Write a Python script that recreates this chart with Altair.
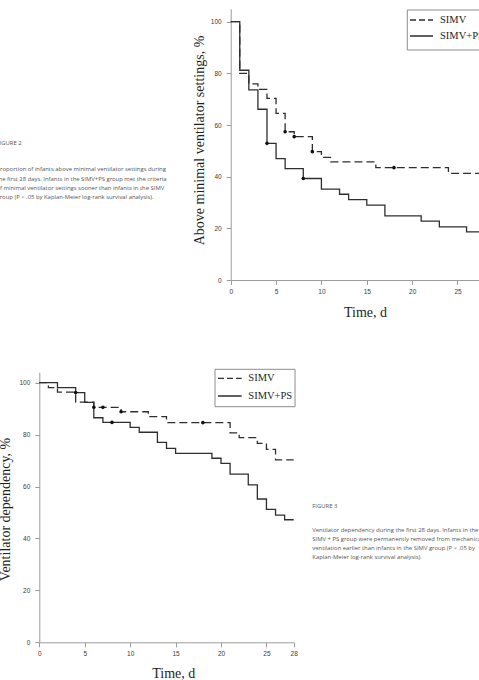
import altair as alt
import pandas as pd

# ---- Figure 2: proportion above minimal ventilator settings (%) ----
f2_simv_t = [0, 1, 2, 3, 4, 5, 6, 7, 9, 10, 11, 16, 24, 28]
f2_simv_s = [100, 80.0, 75.9, 73.8, 70.3, 64.5, 57.4, 55.5, 49.7, 47.5, 45.7, 43.5, 41.3, 41.3]
f2_ps_t = [0, 1, 2, 3, 4, 5, 6, 8, 10, 12, 13, 15, 17, 21, 23, 26, 28]
f2_ps_s = [100, 81.2, 73.6, 66.1, 52.9, 47.0, 43.1, 39.3, 35.2, 33.2, 31.1, 29.0, 24.8, 22.8, 20.6, 18.6, 18.6]
f2_cens_simv_t = [6, 7, 9, 18]
f2_cens_simv_s = [57.4, 55.5, 49.7, 43.5]
f2_cens_ps_t = [4, 8]
f2_cens_ps_s = [52.9, 39.3]

# ---- Figure 3: ventilator dependency (%) ----
f3_simv_t = [0, 1, 2, 4, 6, 9, 12, 14, 21, 22, 24, 25, 26, 28]
f3_simv_s = [100, 98.1, 96.4, 92.5, 90.5, 88.8, 86.9, 84.6, 80.7, 78.8, 76.6, 74.3, 70.3, 70.3]
f3_ps_t = [0, 2, 4, 5, 6, 7, 10, 11, 13, 14, 15, 19, 20, 21, 23, 24, 25, 26, 27, 28]
f3_ps_s = [100, 98.1, 96.2, 92.4, 86.5, 84.7, 82.8, 80.9, 77.0, 74.7, 72.8, 70.9, 68.9, 64.8,
           60.6, 55.2, 51.2, 49.0, 47.2, 47.2]
f3_cens_simv_t = [6, 7, 9, 18]
f3_cens_simv_s = [90.5, 90.5, 88.8, 84.6]
f3_cens_ps_t = [4, 8]
f3_cens_ps_s = [96.2, 84.7]

GROUPS = ["SIMV", "SIMV+PS"]
X_TICKS = [0, 5, 10, 15, 20, 25, 28]
Y_TICKS = [0, 20, 40, 60, 80, 100]

FIG2_CAPTION_TITLE = "FIGURE 2"
FIG2_CAPTION = [
    "Proportion of infants above minimal ventilator settings during",
    "the first 28 days. Infants in the SIMV+PS group met the criteria",
    "of minimal ventilator settings sooner than infants in the SIMV",
    "group (P < .05 by Kaplan-Meier log-rank survival analysis).",
]
FIG3_CAPTION_TITLE = "FIGURE 3"
FIG3_CAPTION = [
    "Ventilator dependency during the first 28 days. Infants in the",
    "SIMV + PS group were permanently removed from mechanical",
    "ventilation earlier than infants in the SIMV group (P < .05 by",
    "Kaplan-Meier log-rank survival analysis).",
]

INK = "#2e2e2e"
AXIS_GRAY = "#9c9c9c"
CAPTION_GRAY = "#555555"
SERIF = "Liberation Serif"
SANS = "Liberation Sans"
CAPTION_FONT = "Open Sans"

one_row = pd.DataFrame({"k": [0]})


def km_panel(simv_t, simv_s, ps_t, ps_s, cs_t, cs_s, cp_t, cp_s,
             x_range, y_range, y_max, x_axis_offset, y_axis_offset,
             y_title, y_title_x, y_title_y, x_title_x, x_title_y):
    curves = pd.concat([
        pd.DataFrame({"t": simv_t, "s": simv_s, "g": GROUPS[0]}),
        pd.DataFrame({"t": ps_t, "s": ps_s, "g": GROUPS[1]}),
    ], ignore_index=True)
    censored = pd.concat([
        pd.DataFrame({"t": cs_t, "s": cs_s, "g": GROUPS[0]}),
        pd.DataFrame({"t": cp_t, "s": cp_s, "g": GROUPS[1]}),
    ], ignore_index=True)

    x = alt.X(
        "t:Q",
        scale=alt.Scale(domain=[0, 28], range=x_range, nice=False, zero=False),
        axis=alt.Axis(
            orient="bottom", offset=x_axis_offset, values=X_TICKS, grid=False,
            title="Time, d", titleFont=SERIF, titleFontSize=14, titleFontWeight="normal",
            titleColor="#1e1e1e", titleX=x_title_x, titleY=x_title_y,
            titleAlign="center", titleBaseline="middle",
            labelFont=SANS, labelFontSize=6.5, labelColor="#3a3a3a", labelPadding=4,
            tickSize=4.5, tickColor=AXIS_GRAY, domainColor=AXIS_GRAY, labelFlush=False,
        ),
    )
    y = alt.Y(
        "s:Q",
        scale=alt.Scale(domain=[0, y_max], range=y_range, nice=False, zero=False),
        axis=alt.Axis(
            orient="left", offset=y_axis_offset, values=Y_TICKS, grid=False,
            title=y_title, titleFont=SERIF, titleFontSize=14, titleFontWeight="normal",
            titleColor="#1e1e1e", titleX=y_title_x, titleY=y_title_y, titleAngle=270,
            titleAlign="center", titleBaseline="middle",
            labelFont=SANS, labelFontSize=6.5, labelColor="#3a3a3a", labelPadding=5,
            tickSize=4.5, tickColor=AXIS_GRAY, domainColor=AXIS_GRAY, labelFlush=False,
        ),
    )
    lines = alt.Chart(curves).mark_line(
        interpolate="step-after", color=INK, strokeWidth=1.3
    ).encode(
        x=x, y=y,
        strokeDash=alt.StrokeDash(
            "g:N", scale=alt.Scale(domain=GROUPS, range=[[8, 4], [1, 0]]), legend=None
        ),
    )
    dots = alt.Chart(censored).mark_circle(size=13, color="#111111", opacity=1).encode(x=x, y=y)
    return alt.layer(lines, dots)


def legend_box(x0, x1, y0, y1, row_y, line_x0, line_x1, text_x):
    box = alt.Chart(one_row).mark_rect(
        fillOpacity=0, stroke="#8c8c8c", strokeWidth=1
    ).encode(x=alt.value(x0), x2=alt.value(x1), y=alt.value(y0), y2=alt.value(y1))
    layers = [box]
    dashes = [[6, 3], [1, 0]]
    for i, label in enumerate(GROUPS):
        layers.append(
            alt.Chart(one_row).mark_rule(color=INK, strokeWidth=1.3, strokeDash=dashes[i]).encode(
                x=alt.value(line_x0), x2=alt.value(line_x1), y=alt.value(row_y[i])
            )
        )
        layers.append(
            alt.Chart(one_row).mark_text(
                align="left", baseline="middle", font=SERIF, fontSize=10.5, color="#1e1e1e"
            ).encode(x=alt.value(text_x), y=alt.value(row_y[i]), text=alt.value(label))
        )
    return alt.layer(*layers)


def caption(title, lines, x0, title_y, body_y, line_height):
    head = alt.Chart(one_row).mark_text(
        align="left", baseline="middle", font=CAPTION_FONT, fontSize=5.9, color=CAPTION_GRAY
    ).encode(x=alt.value(x0), y=alt.value(title_y), text=alt.value(title))
    body = alt.Chart(one_row).mark_text(
        align="left", baseline="middle", font=CAPTION_FONT, fontSize=5.9,
        lineHeight=line_height, color=CAPTION_GRAY
    ).encode(x=alt.value(x0), y=alt.value(body_y), text=alt.value(lines))
    return alt.layer(head, body)


fig2 = km_panel(
    f2_simv_t, f2_simv_s, f2_ps_t, f2_ps_s,
    f2_cens_simv_t, f2_cens_simv_s, f2_cens_ps_t, f2_cens_ps_s,
    x_range=[230.7, 484.7], y_range=[280, 8.8], y_max=105,
    x_axis_offset=-400, y_axis_offset=-230.7,
    y_title="Above minimal ventilator settings, %", y_title_x=-31, y_title_y=140,
    x_title_x=365, x_title_y=32,
)
fig3 = km_panel(
    f3_simv_t, f3_simv_s, f3_ps_t, f3_ps_s,
    f3_cens_simv_t, f3_cens_simv_s, f3_cens_ps_t, f3_cens_ps_s,
    x_range=[39.3, 293.7], y_range=[642.3, 372.3], y_max=104,
    x_axis_offset=-37.7, y_axis_offset=-39.3,
    y_title="Ventilator dependency, %", y_title_x=-33.5, y_title_y=509,
    x_title_x=173.3, x_title_y=31,
)

chart = alt.layer(
    fig2,
    fig3,
    legend_box(407.3, 560, 10, 50, [20, 36], 410, 433, 440),
    legend_box(215, 295, 369.3, 406.7, [378.3, 396], 218, 241.7, 248.3),
    caption(FIG2_CAPTION_TITLE, FIG2_CAPTION, -3.5, 143.3, 169.2, 9.4),
    caption(FIG3_CAPTION_TITLE, FIG3_CAPTION, 312.3, 505.7, 529.6, 9.2),
).resolve_scale(
    x="independent", y="independent"
).resolve_axis(
    x="independent", y="independent"
).properties(
    width=479, height=680, padding=0,
    autosize=alt.AutoSizeParams(type="none"),
    background="white",
).configure_view(stroke=None)

chart.save("out.html", embed_options={"renderer": "svg", "actions": False})
